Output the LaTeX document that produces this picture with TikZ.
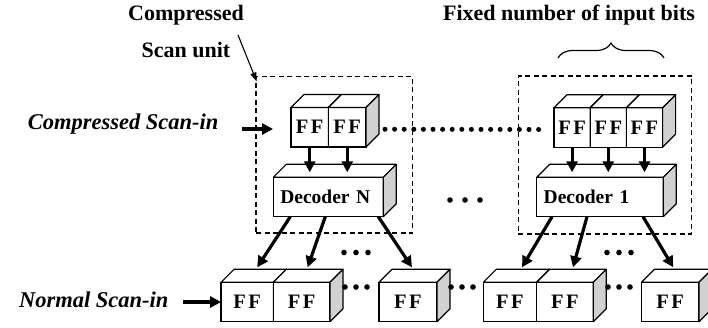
\documentclass[tikz,border=0pt]{standalone}
\usepackage{fontspec}
\setmainfont{Liberation Serif}
\usetikzlibrary{arrows.meta,calc,decorations.pathreplacing}
\definecolor{sidegray}{gray}{0.82}

% top and right faces of a box drawn behind the front face node #1, depth #2
\newcommand\cubefaces[2]{%
  \draw[topface] (#1.north west) -- ++(#2,-#2) -- ($(#1.north east)+(#2,-#2)$) -- (#1.north east) -- cycle;
  \draw[sideface] (#1.north east) -- ++(#2,-#2) -- ($(#1.south east)+(#2,-#2)$) -- (#1.south east) -- cycle;
}
% three small dots centred at (#1,#2), spaced #3 apart
\newcommand\threedots[3]{%
  \foreach \k in {-1,0,1} \fill ($(#1,#2)+(\k*#3,0)$) circle (2.8pt);
}

\begin{document}
\begin{tikzpicture}[x=1pt,y=-1pt,
  box/.style={draw, fill=white, line width=1.2pt, inner sep=0pt, outer sep=0pt, minimum height=39.4pt},
  ff/.style={box, font=\fontsize{20.5}{24}\bfseries},
  dec/.style={box, font=\fontsize{19.5}{23}\bfseries, align=left, inner xsep=7pt},
  topface/.style={draw, fill=white, line width=1.2pt, line join=round},
  sideface/.style={draw, fill=sidegray, line width=1.2pt, line join=round},
  unitbox/.style={draw, dash pattern=on 5pt off 3.5pt, line width=1.2pt, inner sep=0pt, outer sep=0pt},
  bigarr/.style={line width=3.2pt, -{Triangle[length=11pt,width=11pt]}},
  thinarr/.style={line width=1.1pt, -{Triangle[length=9pt,width=6pt]}},
  lbl/.style={font=\fontsize{22}{26}\bfseries},
  ilbl/.style={font=\fontsize{22.5}{26}\bfseries\itshape},
  dotline/.style={line width=5pt, line cap=round, dash pattern=on 0pt off 9.6pt},
]
\useasboundingbox (0,0) rectangle (708,327);
\clip (0,0) rectangle (708,327);

% labels
\node[lbl] (lcomp) at (186,15) {Compressed};
\node[lbl] (lunit) at (186,50) {Scan unit};
\node[lbl] (lbits) at (569,15) {Fixed number of input bits};
\node[ilbl, anchor=east] (lcsin) at (222,124) {Compressed Scan-in};
\node[ilbl, anchor=east] (lnsin) at (172,300) {Normal Scan-in};

% compressed scan units
\node[unitbox, minimum width=156.7pt, minimum height=156.5pt] (unitL) at (334.35,154.75) {};
\node[unitbox, minimum width=173.4pt, minimum height=158pt] (unitR) at (605,155) {};

% pointer to the left scan unit
\coordinate (ptr) at (238,35);
\draw[thinarr] (ptr) -- ($(unitL.north west)+(0.7,5)$);

% brace over the right group of flip-flops
\draw[line width=1.2pt, decorate, decoration={brace, amplitude=15pt}] (558,58) -- (664,58);

% compressed flip-flops, left unit
\node[ff, minimum width=37.5pt] (fa1) at (309.75,127.25) {F\kern2.5pt F};
\cubefaces{fa1}{13}
\node[ff, minimum width=37.5pt] (fa2) at (347.25,127.25) {F\kern2.5pt F};
\cubefaces{fa2}{13}

% compressed flip-flops, right unit
\node[ff, minimum width=36.2pt] (fr1) at (572.1,127.5) {F\kern2.5pt F};
\cubefaces{fr1}{13}
\node[ff, minimum width=36.2pt] (fr2) at (608.3,127.5) {F\kern2.5pt F};
\cubefaces{fr2}{13}
\node[ff, minimum width=36.2pt] (fr3) at (644.5,127.5) {F\kern2.5pt F};
\cubefaces{fr3}{13}

% decoders
\node[dec, minimum width=110pt, text width=96pt] (dn) at (328.3,197) {Decoder N};
\cubefaces{dn}{13}
\node[dec, minimum width=126.6pt, text width=112.6pt] (d1) at (600,197) {Decoder 1};
\cubefaces{d1}{13}

% normal scan chain
\node[ff, minimum width=52.3pt] (fb1) at (247.2,302) {F\kern2.5pt F};
\cubefaces{fb1}{13}
\node[ff, minimum width=56.7pt] (fb2) at (301.65,302) {F\kern2.5pt F};
\cubefaces{fb2}{13}
\node[ff, minimum width=58pt] (fb3) at (408,302) {F\kern2.5pt F};
\cubefaces{fb3}{13}
\node[ff, minimum width=53.4pt] (fb4) at (510,302) {F\kern2.5pt F};
\cubefaces{fb4}{13}
\node[ff, minimum width=56.6pt] (fb5) at (565,302) {F\kern2.5pt F};
\cubefaces{fb5}{13}
\node[ff, minimum width=57.5pt] (fb6) at (670.25,302) {F\kern2.5pt F};
\cubefaces{fb6}{13}

% scan inputs
\coordinate (csin) at (273,129);
\draw[bigarr] ($(csin)+(-31,0)$) -- (csin);
\draw[bigarr] ($(fb1.west)+(-38,0)$) -- (fb1.west);

% flip-flops into decoders
\foreach \f in {fa1,fa2} \draw[bigarr] (\f.south) -- ($(\f.south |- dn.north)+(0,-5)$);
\foreach \f in {fr1,fr2,fr3} \draw[bigarr] (\f.south) -- ($(\f.south |- d1.north)+(0,-5)$);

% decoders into the scan chain
\draw[bigarr] ($(dn.south)+(-38,0)$) -- ($(fb1.north)+(10,-15)$);
\draw[bigarr] ($(dn.south)+(-3,0)$) -- ($(fb2.north)+(6,-15)$);
\draw[bigarr] ($(dn.south)+(50,0)$) -- ($(fb3.north)+(4,-15)$);
\draw[bigarr] ($(d1.south)+(-48,0)$) -- ($(fb4.north)+(12,-15)$);
\draw[bigarr] ($(d1.south)+(-13,0)$) -- ($(fb5.north)+(8,-15)$);
\draw[bigarr] ($(d1.south)+(43,0)$) -- ($(fb6.north)+(3,-15)$);

% dotted link between the compressed units
\draw[dotline] ($(fa2.east)+(19,2)$) -- ($(fr1.west)+(-6,2)$);

% ellipses
\threedots{465}{200}{15}
\threedots{356}{252.5}{12}
\threedots{619}{252.5}{12}
\threedots{356}{287}{11}
\threedots{462}{287}{11}
\threedots{619}{287}{11}
\end{tikzpicture}
\end{document}
